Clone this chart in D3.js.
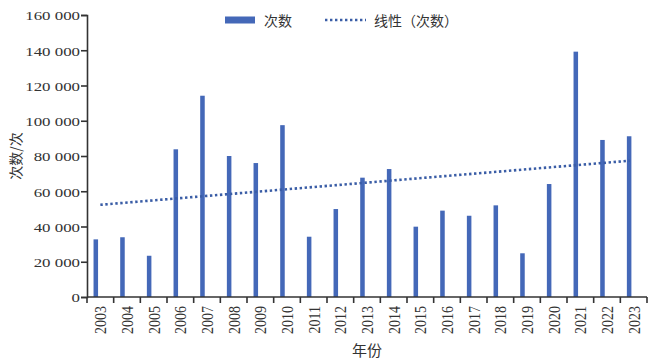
<!DOCTYPE html>
<html><head><meta charset="utf-8">
<script src="https://cdn.jsdelivr.net/npm/d3@7/dist/d3.min.js"></script>
<style>
body{margin:0;background:#fff;}
svg{display:block;}
</style></head>
<body>
<svg id="c" width="648" height="360"></svg>
<script>
const years = ["2003","2004","2005","2006","2007","2008","2009","2010","2011","2012","2013","2014","2015","2016","2017","2018","2019","2020","2021","2022","2023"];
const counts = [32700,33900,23400,83800,114200,80000,76000,97500,34200,49900,67700,72600,39900,49000,46100,52000,24800,64100,139200,89100,91200];
const yTicks = [0,20000,40000,60000,80000,100000,120000,140000,160000];
const seriesName = "次数";
const trendName = "线性（次数）";
const xTitle = "年份";
const yTitle = "次数/次";

const svg = d3.select("#c");
const L = 87, R = 647, T = 15, B = 297;
const barColor = "#4468B8", trendColor = "#3A5DA6", axisColor = "#333";
const serif = "'Liberation Serif','Times New Roman',serif";
const cjk = "'Noto Sans CJK SC','Noto Sans CJK JP',sans-serif";

const x = d3.scaleBand().domain(years).range([L, R]).padding(0);
const y = d3.scaleLinear().domain([0,160000]).range([B, T]);
const bw = x.bandwidth();

// bars
svg.append("g").selectAll("rect").data(years).join("rect")
  .attr("x", d => x(d) + bw*0.245)
  .attr("width", bw*0.17)
  .attr("y", (d,i) => y(counts[i]))
  .attr("height", (d,i) => y(0) - y(counts[i]))
  .attr("fill", barColor);

// trend line (least squares on data)
const n = counts.length;
const xs = d3.range(n);
const mx = d3.mean(xs), my = d3.mean(counts);
const slope = d3.sum(xs, i => (i-mx)*(counts[i]-my)) / d3.sum(xs, i => (i-mx)*(i-mx));
const icpt = my - slope*mx;
svg.append("line")
  .attr("x1", x(years[0]) + bw/2).attr("y1", y(icpt))
  .attr("x2", x(years[n-1]) + bw/2 - 4).attr("y2", y(icpt + slope*(n-1)))
  .attr("stroke", trendColor).attr("stroke-width", 2.6).attr("stroke-dasharray", "2.4,2.6");

// y axis
const yAxis = svg.append("g").attr("transform", `translate(${L},0)`)
  .call(d3.axisLeft(y).tickValues(yTicks).tickSize(6).tickPadding(7)
    .tickFormat(d => d3.format(",")(d).replace(/,/g, " ")));
yAxis.select(".domain").attr("stroke", axisColor).attr("stroke-width", 1.6);
yAxis.selectAll(".tick line").attr("stroke", axisColor).attr("stroke-width", 1.6);
yAxis.selectAll(".tick text")
  .attr("font-family", serif).attr("font-size", 13.5).attr("fill", "#333")
  .attr("x", null).attr("dy", null)
  .attr("dominant-baseline", "central")
  .attr("transform", "translate(-7,0) scale(1.25,1)");

// x axis
const xAxisG = svg.append("g").attr("transform", `translate(0,${B})`);
xAxisG.append("line").attr("x1", L).attr("x2", R).attr("stroke", axisColor).attr("stroke-width", 1.6);
const bounds = years.map(d => x(d)).concat([R]);
xAxisG.selectAll("line.tk").data(bounds).join("line").attr("class","tk")
  .attr("x1", d => d).attr("x2", d => d).attr("y1", 0).attr("y2", 6)
  .attr("stroke", axisColor).attr("stroke-width", 1.6);
xAxisG.selectAll("text").data(years).join("text")
  .attr("transform", d => `translate(${x(d)+bw/2},9) rotate(-90) scale(1,1.2)`)
  .attr("text-anchor", "end").attr("dominant-baseline", "central")
  .attr("font-family", serif).attr("font-size", 14).attr("fill", "#333")
  .text(d => d);

// axis titles
svg.append("text").attr("x", 367).attr("y", 349)
  .attr("text-anchor", "middle").attr("dominant-baseline", "central")
  .attr("font-family", cjk).attr("font-size", 15).attr("fill", "#333").text(xTitle);
svg.append("text").attr("transform", `translate(15,${(T+B)/2}) rotate(-90)`)
  .attr("text-anchor", "middle").attr("dominant-baseline", "central")
  .attr("font-family", cjk).attr("font-size", 14).attr("fill", "#333").text(yTitle);

// legend
const lg = svg.append("g");
lg.append("rect").attr("x", 225).attr("y", 16.5).attr("width", 30).attr("height", 7).attr("fill", barColor);
lg.append("text").attr("x", 264).attr("y", 20).attr("dominant-baseline", "central")
  .attr("font-family", cjk).attr("font-size", 14).attr("fill", "#333").text(seriesName);
lg.append("line").attr("x1", 325).attr("x2", 366).attr("y1", 20).attr("y2", 20)
  .attr("stroke", trendColor).attr("stroke-width", 2.6).attr("stroke-dasharray", "2.4,2.6");
lg.append("text").attr("x", 374).attr("y", 20).attr("dominant-baseline", "central")
  .attr("font-family", cjk).attr("font-size", 14).attr("fill", "#333").text(trendName);
</script>
</body></html>
